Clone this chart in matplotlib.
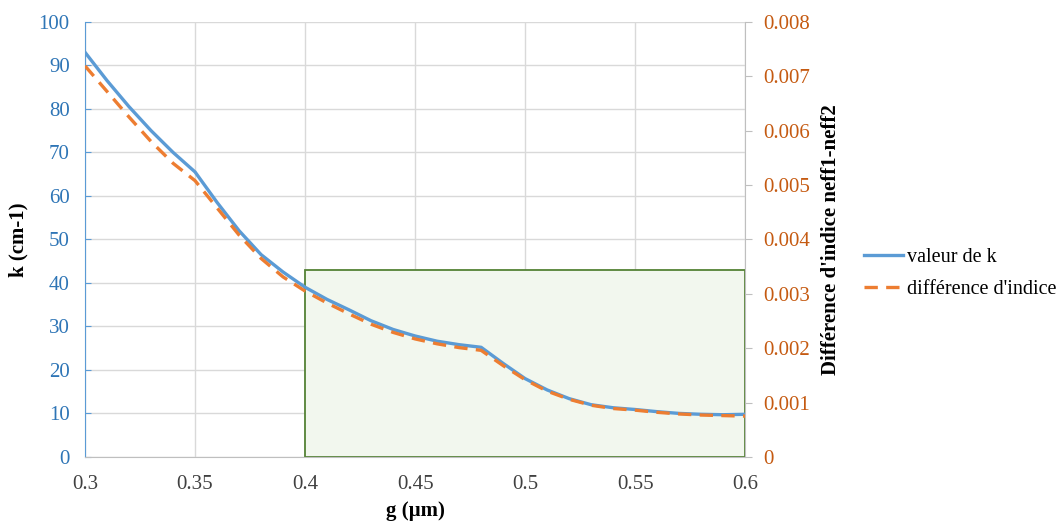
import matplotlib
matplotlib.use("Agg")
import matplotlib.pyplot as plt
from matplotlib.patches import Rectangle

# data
g = [0.30, 0.31, 0.32, 0.33, 0.34, 0.35, 0.36, 0.37, 0.38, 0.39,
     0.40, 0.41, 0.42, 0.43, 0.44, 0.45, 0.46, 0.47, 0.48, 0.49,
     0.50, 0.51, 0.52, 0.53, 0.54, 0.55, 0.56, 0.57, 0.58, 0.59, 0.60]
k = [93.0, 86.5, 80.5, 75.0, 70.0, 65.5, 58.5, 52.0, 46.5, 42.5,
     39.0, 36.2, 33.8, 31.3, 29.3, 27.8, 26.6, 25.8, 25.2, 21.5,
     18.0, 15.4, 13.4, 12.0, 11.3, 10.9, 10.4, 10.0, 9.8, 9.7, 9.8]
dn = [7.19e-3, 6.72e-3, 6.25e-3, 5.80e-3, 5.40e-3, 5.08e-3, 4.58e-3, 4.08e-3, 3.65e-3, 3.31e-3,
      3.05e-3, 2.83e-3, 2.63e-3, 2.44e-3, 2.29e-3, 2.17e-3, 2.08e-3, 2.01e-3, 1.96e-3, 1.68e-3,
      1.42e-3, 1.21e-3, 1.06e-3, 0.95e-3, 0.89e-3, 0.86e-3, 0.82e-3, 0.79e-3, 0.77e-3, 0.76e-3, 0.75e-3]
zone_x = [0.4, 0.6]
zone_k = 43.0

xticks = [0.3, 0.35, 0.4, 0.45, 0.5, 0.55, 0.6]
xticklabels = ["0.3", "0.35", "0.4", "0.45", "0.5", "0.55", "0.6"]
kticks = [0, 10, 20, 30, 40, 50, 60, 70, 80, 90, 100]
dnticks = [0, 0.001, 0.002, 0.003, 0.004, 0.005, 0.006, 0.007, 0.008]
dnticklabels = ["0", "0.001", "0.002", "0.003", "0.004", "0.005", "0.006", "0.007", "0.008"]

blue = "#5B9BD5"
blue_txt = "#2E75B6"
orange = "#ED7D31"
orange_txt = "#C55A11"
grid_c = "#D9D9D9"
fs = 15

plt.rcParams['font.family'] = ['Liberation Serif', 'DejaVu Serif']

fig = plt.figure(figsize=(10.63, 5.21), dpi=100)
ax = fig.add_axes([0.080, 0.123, 0.621, 0.835])
ax2 = ax.twinx()

ax.set_xlim(0.3, 0.6)
ax.set_ylim(0, 100)
ax2.set_ylim(0, 0.008)

ax.set_xticks(xticks)
ax.set_xticklabels(xticklabels)
ax.set_yticks(kticks)
ax2.set_yticks(dnticks)
ax2.set_yticklabels(dnticklabels)

ax.grid(True, color=grid_c, linewidth=1.0)
ax.set_axisbelow(True)

# shaded region
ax.add_patch(Rectangle((zone_x[0], 0), zone_x[1] - zone_x[0], zone_k,
                       facecolor="#F2F7EE", edgecolor="#548235", linewidth=1.3,
                       zorder=1.5, clip_on=False))

l1, = ax.plot(g, k, color=blue, linewidth=2.4, label="valeur de k", zorder=3)
l2, = ax2.plot(g, dn, color=orange, linewidth=2.4, linestyle=(0, (4, 2.5)),
               label="différence d'indice", zorder=3)

ax.spines["top"].set_visible(False)
ax2.spines["top"].set_visible(False)
ax.spines["left"].set_color(blue)
ax.spines["bottom"].set_color("#BFBFBF")
ax.spines["right"].set_visible(False)
ax2.spines["left"].set_visible(False)
ax2.spines["bottom"].set_visible(False)
ax2.spines["right"].set_color("#BFBFBF")

ax.tick_params(axis="y", colors=blue_txt, labelsize=fs, length=4, direction="in", pad=11)
ax.tick_params(axis="y", color=blue)
ax.tick_params(axis="x", colors="#404040", labelsize=fs, length=0, pad=13)
ax2.tick_params(axis="y", colors=orange_txt, labelsize=fs, length=5, direction="out", pad=8)
ax2.tick_params(axis="y", color="#BFBFBF")

ax.set_xlabel("g (µm)", fontsize=fs, fontweight="bold", labelpad=5)
ax.set_ylabel("k (cm-1)", fontsize=fs, fontweight="bold", labelpad=7)
ax2.set_ylabel("Différence d'indice neff1-neff2", fontsize=fs, fontweight="bold", labelpad=8)

fig.legend(handles=[l1, l2], loc="center left", bbox_to_anchor=(0.813, 0.475),
           frameon=False, fontsize=14.5, handlelength=1.95, handletextpad=0.15,
           labelspacing=0.6, borderpad=0, borderaxespad=0)

fig.savefig("out.png", dpi=100)
